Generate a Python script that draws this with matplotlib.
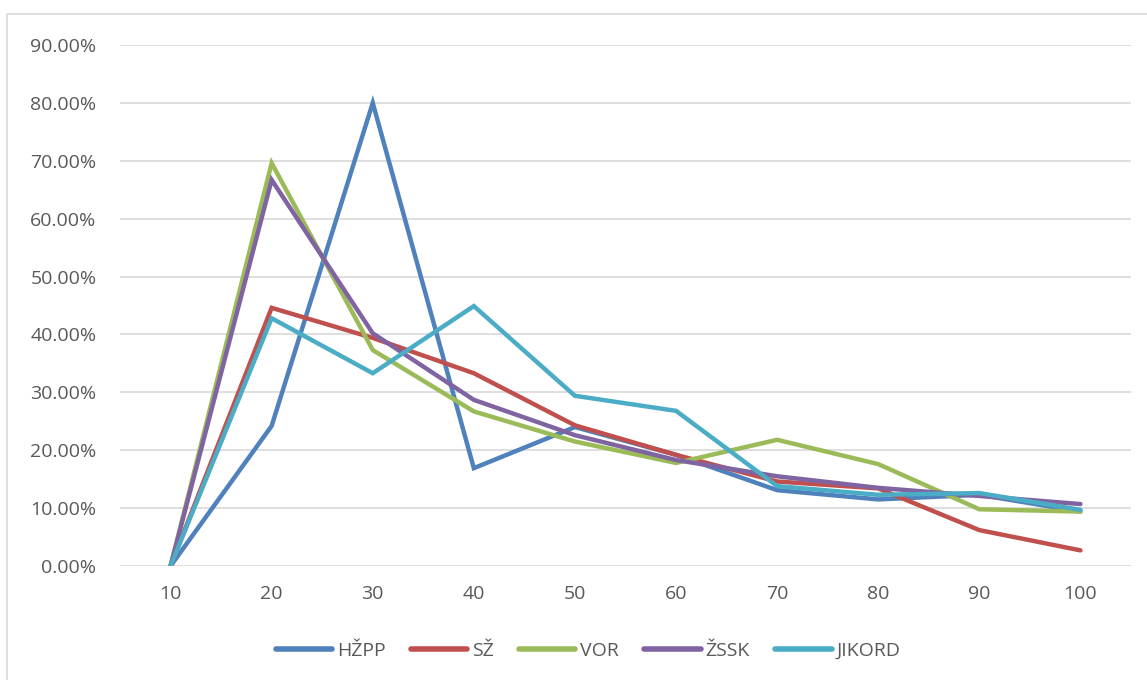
import numpy as np
import matplotlib.pyplot as plt
import matplotlib.patches as mpatch
from matplotlib.ticker import FuncFormatter

categories = ['10', '20', '30', '40', '50', '60', '70', '80', '90', '100']
hzpp = [0.0, 24.2, 80.0, 16.9, 24.0, 19.2, 13.1, 11.5, 12.3, 9.4]
sz = [0.0, 44.6, 39.4, 33.3, 24.3, 19.2, 14.6, 13.4, 6.2, 2.7]
vor = [0.0, 69.6, 37.3, 26.7, 21.5, 17.8, 21.8, 17.6, 9.8, 9.4]
zssk = [0.0, 66.7, 40.2, 28.7, 22.6, 18.3, 15.5, 13.5, 12.1, 10.7]
jikord = [0.0, 42.8, 33.3, 44.9, 29.4, 26.8, 13.8, 12.3, 12.6, 9.7]

series = [('HŽPP', hzpp, '#4F81BD'), ('SŽ', sz, '#C0504D'), ('VOR', vor, '#9BBB59'),
          ('ŽSSK', zssk, '#8064A2'), ('JIKORD', jikord, '#4BACC6')]

plt.rcParams['font.family'] = ['Open Sans', 'DejaVu Sans']

fig = plt.figure(figsize=(11.47, 6.80), dpi=100)
ax = fig.add_axes([120/1147, 1 - 566/680, (1131 - 120)/1147, (566 - 45)/680])

# rámeček grafu
fig.patches.append(mpatch.Rectangle((7/1147, -0.1), 1.2, 1 - 14/680 + 0.1, transform=fig.transFigure,
                                    fill=False, edgecolor='#D9D9D9', lw=1.2))

x = np.arange(len(categories))
for name, vals, col in series:
    ax.plot(x, np.array(vals) / 100, color=col, lw=3.2, label=name, solid_capstyle='round',
            solid_joinstyle='miter')

ax.set_xlim(-0.5, len(categories) - 0.5)
ax.set_ylim(0, 0.9)
ax.set_yticks(np.arange(0, 0.91, 0.1))
ax.yaxis.set_major_formatter(FuncFormatter(lambda v, p: f'{v*100:.2f}%'))
ax.set_xticks(x)
ax.set_xticklabels(categories)
ax.grid(axis='y', color='#D9D9D9', lw=1.2)
ax.set_axisbelow(True)
for s in ax.spines.values():
    s.set_visible(False)
ax.tick_params(axis='both', length=0, labelsize=14, labelcolor='#595959')
ax.tick_params(axis='y', pad=17)
ax.tick_params(axis='x', pad=14)

leg = fig.legend(loc='center', bbox_to_anchor=(588/1147, 1 - 651/680), ncol=5, frameon=False,
                 fontsize=14, handlelength=2.9, columnspacing=1.3, handletextpad=0.25)
for t in leg.get_texts():
    t.set_color('#595959')
for h in leg.get_lines():
    h.set_linewidth(4)

plt.savefig('out.png', dpi=100)
